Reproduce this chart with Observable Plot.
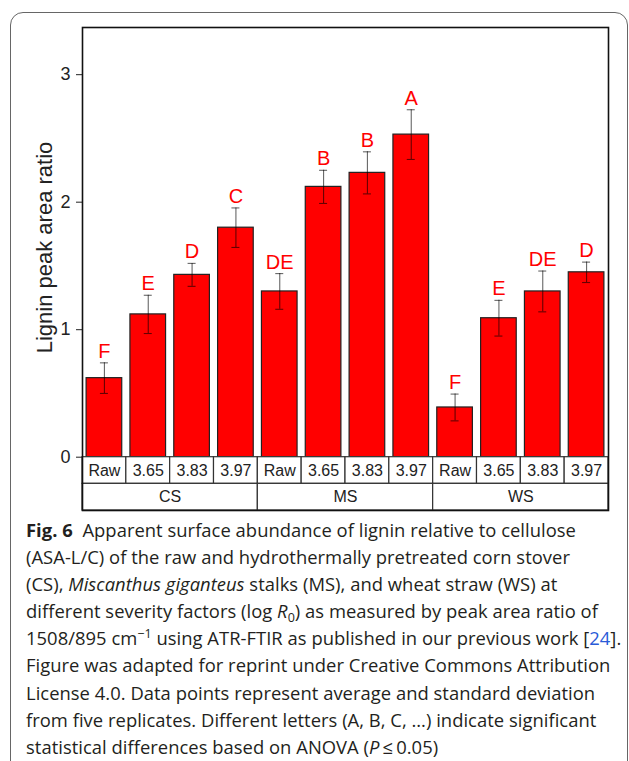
<!DOCTYPE html>
<html>
<head>
<meta charset="utf-8">
<script src="https://cdn.jsdelivr.net/npm/d3@7"></script>
<script src="https://cdn.jsdelivr.net/npm/@observablehq/plot@0.6"></script>
<style>
  html, body { margin: 0; padding: 0; background: #fff; width: 629px; height: 761px; overflow: hidden; }
  #box { position: absolute; left: 10px; top: 12px; width: 618px; height: 770px; border: 1.5px solid #666; border-radius: 13px; box-sizing: border-box; }
  #chart { position: absolute; left: 0; top: 0; }
  #caption { position: absolute; left: 26px; top: 516px; font-family: "Open Sans", sans-serif; font-size: 18.4px; line-height: 27.1px; color: #231f20; letter-spacing: 0.03px; white-space: nowrap; }
  #caption .l { display: block; height: 27.1px; }
  #caption b { font-weight: 700; }
  #caption .ref { color: #2a5bd7; }
  #caption sub, #caption sup { font-size: 12.5px; line-height: 0; position: relative; vertical-align: baseline; }
  #caption sub { top: 4px; }
  #caption sup { top: -7px; }
</style>
</head>
<body>
<div id="box"></div>
<div id="chart"></div>
<div id="caption">
  <span class="l"><b>Fig. 6</b>&nbsp; Apparent surface abundance of lignin relative to cellulose</span>
  <span class="l">(ASA-L/C) of the raw and hydrothermally pretreated corn stover</span>
  <span class="l">(CS), <i>Miscanthus giganteus</i> stalks (MS), and wheat straw (WS) at</span>
  <span class="l">different severity factors (log <i>R</i><sub>0</sub>) as measured by peak area ratio of</span>
  <span class="l">1508/895 cm<sup>−1</sup> using ATR-FTIR as published in our previous work [<span class="ref">24</span>].</span>
  <span class="l">Figure was adapted for reprint under Creative Commons Attribution</span>
  <span class="l">License 4.0. Data points represent average and standard deviation</span>
  <span class="l">from five replicates. Different letters (A, B, C, …) indicate significant</span>
  <span class="l">statistical differences based on ANOVA (<i>P</i>&thinsp;≤&thinsp;0.05)</span>
</div>
<script>
const groups = ["CS", "MS", "WS"];
const severities = ["Raw", "3.65", "3.83", "3.97"];
const means = [0.62, 1.12, 1.43, 1.80, 1.30, 2.12, 2.23, 2.53, 0.39, 1.09, 1.30, 1.45];
const sds = [0.12, 0.15, 0.09, 0.155, 0.14, 0.13, 0.165, 0.195, 0.105, 0.14, 0.16, 0.08];
const letters = ["F", "E", "D", "C", "DE", "B", "B", "A", "F", "E", "DE", "D"];
const yTicks = [0, 1, 2, 3];
const yLabel = "Lignin peak area ratio";

const data = means.map((m, i) => ({
  i,
  group: groups[Math.floor(i / severities.length)],
  sev: severities[i % severities.length],
  mean: m,
  sd: sds[i],
  letter: letters[i]
}));
const groupRows = groups.map((g, j) => ({g, j}));
const n = severities.length;
const rowH = 0.209; // table row height in y units

const chart = Plot.plot({
  width: 629,
  height: 512,
  marginLeft: 82,
  marginRight: 21,
  marginTop: 27,
  marginBottom: 2,
  style: {fontFamily: "'Liberation Sans', Arial, sans-serif", fontSize: "18px", color: "#222", background: "transparent"},
  x: {type: "linear", domain: [0, data.length], axis: null},
  y: {domain: [-2 * rowH, 3.37], axis: null},
  marks: [
    Plot.rect(data, {x1: d => d.i, x2: d => d.i + 1, y1: 0, y2: "mean", insetLeft: 4.1, insetRight: 4.1, fill: "#ff0000", stroke: "#222", strokeWidth: 1.2}),
    Plot.ruleX(data, {x: d => d.i + 0.5, y1: d => d.mean - d.sd, y2: d => d.mean + d.sd, stroke: "#000", strokeOpacity: 0.6, strokeWidth: 1.1}),
    Plot.ruleY(data, {y: d => d.mean + d.sd, x1: d => d.i + 0.5, x2: d => d.i + 0.5, insetLeft: -4, insetRight: -4, stroke: "#000", strokeOpacity: 0.6, strokeWidth: 1.1}),
    Plot.ruleY(data, {y: d => d.mean - d.sd, x1: d => d.i + 0.5, x2: d => d.i + 0.5, insetLeft: -4, insetRight: -4, stroke: "#000", strokeOpacity: 0.6, strokeWidth: 1.1}),
    Plot.text(data, {x: d => d.i + 0.5, y: d => d.mean + d.sd, text: "letter", lineAnchor: "bottom", dy: -5, fill: "#ff0000", fontSize: 20}),
    // category table
    Plot.rect(data, {x1: d => d.i, x2: d => d.i + 1, y1: 0, y2: -rowH, fill: "#fff", stroke: "#333", strokeWidth: 1.2}),
    Plot.text(data, {x: d => d.i + 0.5, y: -rowH / 2, text: "sev", fontSize: 16, fill: "#222"}),
    Plot.rect(groupRows, {x1: d => d.j * n, x2: d => (d.j + 1) * n, y1: -rowH, y2: -2 * rowH, fill: "#fff", stroke: "#333", strokeWidth: 1.2}),
    Plot.text(groupRows, {x: d => (d.j + 0.5) * n, y: -1.5 * rowH, text: "g", fontSize: 16, fill: "#222"}),
    Plot.axisY({ticks: yTicks, tickFormat: d => String(d), tickSize: 6, tickPadding: 6, label: null, fontSize: 18, stroke: "#222"}),
    Plot.text([yLabel], {frameAnchor: "left", textAnchor: "middle", rotate: -90, dx: -38, dy: -21.5, fontSize: 22, fill: "#222"}),
    Plot.frame({stroke: "#111", strokeWidth: 1.6})
  ]
});
document.getElementById("chart").appendChild(chart);
</script>
</body>
</html>
